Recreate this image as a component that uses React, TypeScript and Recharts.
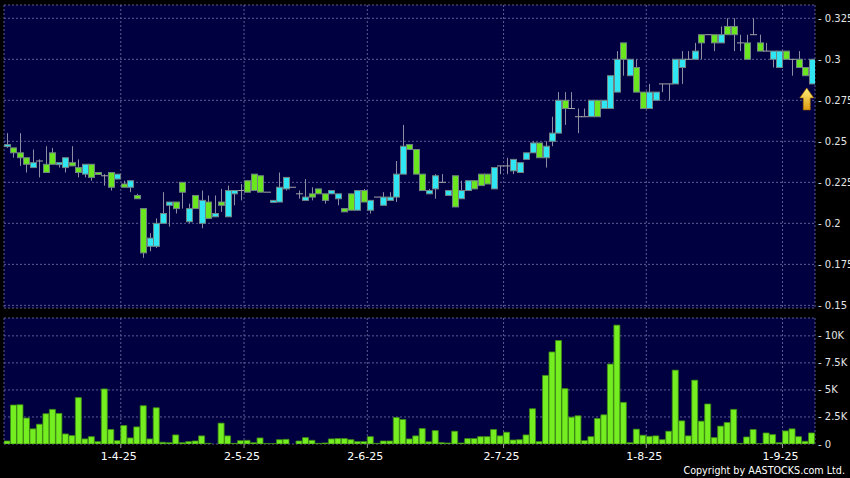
import React from "react";
import {
  ComposedChart,
  Bar,
  XAxis,
  YAxis,
  CartesianGrid,
  ReferenceDot,
} from "recharts";

// daily prices, oldest first
const opens = [
  0.247, 0.246, 0.243, 0.24, 0.234, 0.238, 0.236, 0.243, 0.236, 0.234,
  0.237, 0.234, 0.23, 0.236, 0.231, 0.229, 0.231, 0.227, 0.224, 0.222,
  0.217, 0.209, 0.186, 0.186, 0.2, 0.211, 0.213, 0.225, 0.201, 0.217,
  0.2, 0.213, 0.204, 0.213, 0.204, 0.218, 0.22, 0.226, 0.23, 0.229,
  0.219, 0.213, 0.213, 0.221, 0.222, 0.218, 0.214, 0.218, 0.221, 0.218,
  0.218, 0.215, 0.209, 0.218, 0.208, 0.22, 0.208, 0.216, 0.211, 0.214,
  0.216, 0.23, 0.248, 0.245, 0.23, 0.218, 0.221, 0.225, 0.217, 0.229,
  0.215, 0.22, 0.226, 0.23, 0.23, 0.221, 0.235, 0.235, 0.232, 0.231,
  0.239, 0.243, 0.249, 0.24, 0.25, 0.255, 0.275, 0.27, 0.265, 0.265,
  0.265, 0.275, 0.27, 0.27, 0.28, 0.31, 0.29, 0.295, 0.28, 0.27,
  0.275, 0.285, 0.285, 0.285, 0.295, 0.3, 0.3, 0.315, 0.315, 0.315,
  0.31, 0.32, 0.32, 0.31, 0.31, 0.315, 0.31, 0.305, 0.3, 0.295,
  0.305, 0.3, 0.3, 0.295, 0.285,
];

const highs = [
  0.255, 0.246, 0.255, 0.24, 0.245, 0.239, 0.247, 0.246, 0.237, 0.24,
  0.247, 0.239, 0.236, 0.236, 0.231, 0.23, 0.231, 0.23, 0.226, 0.226,
  0.218, 0.209, 0.194, 0.203, 0.219, 0.213, 0.213, 0.225, 0.212, 0.217,
  0.22, 0.217, 0.217, 0.221, 0.223, 0.22, 0.224, 0.226, 0.23, 0.229,
  0.219, 0.214, 0.231, 0.228, 0.222, 0.22, 0.227, 0.222, 0.221, 0.218,
  0.22, 0.218, 0.209, 0.218, 0.22, 0.221, 0.214, 0.216, 0.219, 0.219,
  0.238, 0.26, 0.248, 0.245, 0.23, 0.221, 0.23, 0.23, 0.22, 0.229,
  0.226, 0.226, 0.226, 0.23, 0.23, 0.234, 0.235, 0.24, 0.239, 0.237,
  0.243, 0.25, 0.249, 0.25, 0.265, 0.28, 0.28, 0.28, 0.27, 0.27,
  0.275, 0.275, 0.275, 0.29, 0.305, 0.31, 0.3, 0.3, 0.28, 0.285,
  0.28, 0.285, 0.285, 0.3, 0.305, 0.305, 0.31, 0.315, 0.315, 0.315,
  0.32, 0.325, 0.325, 0.315, 0.315, 0.325, 0.315, 0.31, 0.305, 0.305,
  0.305, 0.3, 0.305, 0.295, 0.3,
];

const lows = [
  0.246, 0.24, 0.235, 0.231, 0.234, 0.228, 0.231, 0.236, 0.234, 0.231,
  0.235, 0.228, 0.228, 0.226, 0.23, 0.223, 0.22, 0.227, 0.222, 0.219,
  0.215, 0.179, 0.183, 0.185, 0.2, 0.198, 0.206, 0.209, 0.2, 0.209,
  0.197, 0.203, 0.204, 0.207, 0.204, 0.211, 0.214, 0.219, 0.22, 0.219,
  0.219, 0.213, 0.213, 0.22, 0.222, 0.215, 0.214, 0.214, 0.218, 0.212,
  0.218, 0.211, 0.207, 0.208, 0.208, 0.213, 0.206, 0.216, 0.211, 0.214,
  0.213, 0.23, 0.245, 0.23, 0.22, 0.218, 0.215, 0.225, 0.217, 0.21,
  0.215, 0.22, 0.221, 0.223, 0.224, 0.221, 0.23, 0.23, 0.23, 0.231,
  0.239, 0.243, 0.24, 0.234, 0.247, 0.255, 0.26, 0.27, 0.255, 0.265,
  0.265, 0.265, 0.27, 0.27, 0.28, 0.29, 0.29, 0.28, 0.27, 0.27,
  0.275, 0.28, 0.275, 0.285, 0.285, 0.3, 0.3, 0.3, 0.315, 0.305,
  0.31, 0.315, 0.305, 0.305, 0.3, 0.315, 0.305, 0.305, 0.295, 0.295,
  0.3, 0.29, 0.295, 0.29, 0.285,
];

const closes = [
  0.248, 0.243, 0.24, 0.236, 0.237, 0.238, 0.231, 0.236, 0.237, 0.24,
  0.235, 0.231, 0.236, 0.228, 0.23, 0.229, 0.222, 0.23, 0.222, 0.226,
  0.215, 0.182, 0.191, 0.2, 0.206, 0.213, 0.209, 0.219, 0.209, 0.209,
  0.214, 0.203, 0.206, 0.211, 0.22, 0.22, 0.22, 0.219, 0.22, 0.219,
  0.219, 0.214, 0.222, 0.228, 0.222, 0.218, 0.216, 0.216, 0.218, 0.214,
  0.22, 0.218, 0.207, 0.208, 0.22, 0.213, 0.214, 0.216, 0.216, 0.216,
  0.23, 0.247, 0.245, 0.23, 0.22, 0.22, 0.229, 0.225, 0.22, 0.21,
  0.22, 0.226, 0.221, 0.223, 0.224, 0.234, 0.235, 0.235, 0.239, 0.237,
  0.243, 0.249, 0.24, 0.247, 0.255, 0.275, 0.27, 0.27, 0.265, 0.265,
  0.275, 0.265, 0.275, 0.29, 0.3, 0.3, 0.3, 0.28, 0.27, 0.28,
  0.28, 0.285, 0.285, 0.3, 0.3, 0.3, 0.305, 0.31, 0.315, 0.31,
  0.315, 0.315, 0.315, 0.31, 0.3, 0.315, 0.305, 0.305, 0.305, 0.305,
  0.3, 0.3, 0.295, 0.29, 0.3,
];

const volumes = [
  280, 3600, 3630, 2400, 1400, 1830, 2800, 3200, 2830, 930,
  780, 4290, 470, 680, 220, 5090, 1340, 310, 1710, 560,
  1580, 3540, 470, 3350, 160, 120, 840, 120, 220, 280,
  750, 60, 0, 1930, 750, 60, 310, 340, 120, 560,
  30, 30, 400, 430, 0, 280, 590, 340, 60, 90,
  470, 500, 500, 400, 220, 220, 680, 60, 280, 280,
  2450, 2270, 470, 750, 1430, 200, 1240, 120, 90, 1180,
  90, 500, 500, 680, 680, 1340, 750, 1090, 370, 400,
  840, 3260, 220, 6340, 8510, 9570, 5120, 2480, 2610, 310,
  680, 2360, 2700, 7390, 10990, 3850, 120, 1370, 810, 710,
  750, 400, 1180, 6830, 2140, 750, 5900, 2110, 3700, 590,
  1650, 1990, 3200, 60, 650, 1340, 30, 1020, 870, 120,
  1210, 1400, 680, 250, 1020,
];

// month boundaries sit between two trading days
const monthTickPos = [17.5, 36.5, 55.5, 76.5, 98.5, 119.5];
const monthLabels = ["1-4-25", "2-5-25", "2-6-25", "2-7-25", "1-8-25", "1-9-25"];
const priceTicks = [0.15, 0.175, 0.2, 0.225, 0.25, 0.275, 0.3, 0.325];
const volumeTicks = [0, 2500, 5000, 7500, 10000];

const rows = opens.map((o, i) => ({
  i,
  o,
  h: highs[i],
  l: lows[i],
  c: closes[i],
  range: [lows[i], highs[i]],
  vol: volumes[i],
}));

const lastIdx = rows.length - 1;

const BG = "#000040";
const GRID = "#5c5c94";
const UP = "#30e6f2";
const DOWN = "#6ae61e";
const FONT = "DejaVu Sans";

function Candle(props: any) {
  const { x, y, width, height, payload } = props;
  const { o, h, l, c } = payload;
  const top = Math.min(y, y + height);
  const hh = Math.abs(height);
  const cx = Math.round(x + width / 2) + 0.5;
  const span = h - l;
  const py = (v: number) => (span > 0 ? top + ((h - v) / span) * hh : top);
  const bodyTop = py(Math.max(o, c));
  const bodyBot = py(Math.min(o, c));
  const wick =
    hh > 0 ? (
      <line x1={cx} x2={cx} y1={top} y2={top + hh} stroke="#8c8ca4" strokeWidth={1} />
    ) : null;
  if (o === c) {
    return (
      <g>
        {wick}
        <line x1={cx - 3.5} x2={cx + 3.5} y1={bodyTop} y2={bodyTop} stroke="#a4a4a4" strokeWidth={1} />
      </g>
    );
  }
  return (
    <g>
      {wick}
      <rect
        x={cx - 3}
        y={bodyTop}
        width={6}
        height={Math.max(bodyBot - bodyTop, 2)}
        fill={c > o ? UP : DOWN}
        stroke="#708484"
        strokeWidth={1}
      />
    </g>
  );
}

function PriceTick(props: any) {
  const { x, y, payload } = props;
  const v = payload.value as number;
  const label = String(Number(v.toFixed(3)));
  return (
    <text x={x + 3} y={y + 3.5} fill="#e4e4e4" fontSize={10} fontFamily={FONT}>
      {"- " + label}
    </text>
  );
}

function VolumeTick(props: any) {
  const { x, y, payload } = props;
  const v = payload.value as number;
  const label = v === 0 ? "0" : `${v / 1000}K`;
  return (
    <text x={x + 3} y={y + 3.5} fill="#e4e4e4" fontSize={10} fontFamily={FONT}>
      {"- " + label}
    </text>
  );
}

function DateTick(props: any) {
  const { x, y, payload } = props;
  const k = monthTickPos.indexOf(payload.value);
  return (
    <text x={x - 2} y={y + 10} textAnchor="middle" fill="#ffffff" fontSize={11} fontFamily={FONT}>
      {monthLabels[k]}
    </text>
  );
}

function Arrow(props: any) {
  const { cx, cy } = props;
  const ax = cx - 5;
  const t = cy + 4;
  return (
    <g>
      <defs>
        <linearGradient id="arrowFill" x1="0" y1="0" x2="0" y2="1">
          <stop offset="0%" stopColor="#fff27a" />
          <stop offset="100%" stopColor="#e09a10" />
        </linearGradient>
      </defs>
      <path
        d={`M${ax} ${t} L${ax + 7} ${t + 10} L${ax + 3.5} ${t + 10} L${ax + 3.5} ${t + 22} L${ax - 3.5} ${t + 22} L${ax - 3.5} ${t + 10} L${ax - 7} ${t + 10} Z`}
        fill="url(#arrowFill)"
        stroke="#a86a00"
        strokeWidth={0.6}
      />
    </g>
  );
}

export default function App() {
  return (
    <div
      style={{
        position: "fixed",
        left: 0,
        top: 0,
        width: 850,
        height: 478,
        background: "#000000",
        overflow: "hidden",
      }}
    >
      <div style={{ position: "absolute", left: 0, top: 0 }}>
        <ComposedChart
          width={850}
          height={310}
          data={rows}
          margin={{ top: 5, right: 0, bottom: 2, left: 4 }}
        >
          <CartesianGrid
            fill={BG}
            stroke={GRID}
            strokeDasharray="2 2"
          />
          <XAxis
            dataKey="i"
            type="number"
            domain={[-0.5, 124.5]}
            ticks={monthTickPos}
            allowDataOverflow
            hide
          />
          <YAxis
            orientation="right"
            width={35}
            domain={[0.1484, 0.3331]}
            ticks={priceTicks}
            interval={0}
            allowDataOverflow
            axisLine={false}
            tickLine={false}
            tickSize={0}
            tickMargin={0}
            tick={<PriceTick />}
          />
          <Bar
            dataKey="range"
            barSize={6}
            shape={<Candle />}
            isAnimationActive={false}
          />
          <ReferenceDot
            x={lastIdx}
            y={lows[lastIdx]}
            r={0}
            shape={<Arrow />}
            ifOverflow="visible"
          />
        </ComposedChart>
      </div>
      <div style={{ position: "absolute", left: 0, top: 310 }}>
        <ComposedChart
          width={850}
          height={168}
          data={rows}
          margin={{ top: 8, right: 0, bottom: 14, left: 4 }}
        >
          <CartesianGrid fill={BG} stroke={GRID} strokeDasharray="2 2" />
          <XAxis
            dataKey="i"
            type="number"
            domain={[-0.5, 124.5]}
            ticks={monthTickPos}
            interval={0}
            allowDataOverflow
            height={20}
            axisLine={false}
            tickLine={{ stroke: "#9a9a9a" }}
            tickSize={4}
            tickMargin={2}
            tick={<DateTick />}
          />
          <YAxis
            orientation="right"
            width={35}
            domain={[0, 11650]}
            ticks={volumeTicks}
            interval={0}
            allowDataOverflow
            axisLine={false}
            tickLine={false}
            tickSize={0}
            tickMargin={0}
            tick={<VolumeTick />}
          />
          <Bar
            dataKey="vol"
            barSize={6}
            fill="#74ee20"
            stroke="#3f8c14"
            strokeWidth={0.8}
            isAnimationActive={false}
          />
        </ComposedChart>
      </div>
      <svg
        width={850}
        height={478}
        style={{ position: "absolute", left: 0, top: 0, pointerEvents: "none" }}
      >
        <text x={845} y={474} textAnchor="end" fill="#ffffff" fontSize={9.6} fontFamily={FONT}>
          Copyright by AASTOCKS.com Ltd.
        </text>
      </svg>
    </div>
  );
}
